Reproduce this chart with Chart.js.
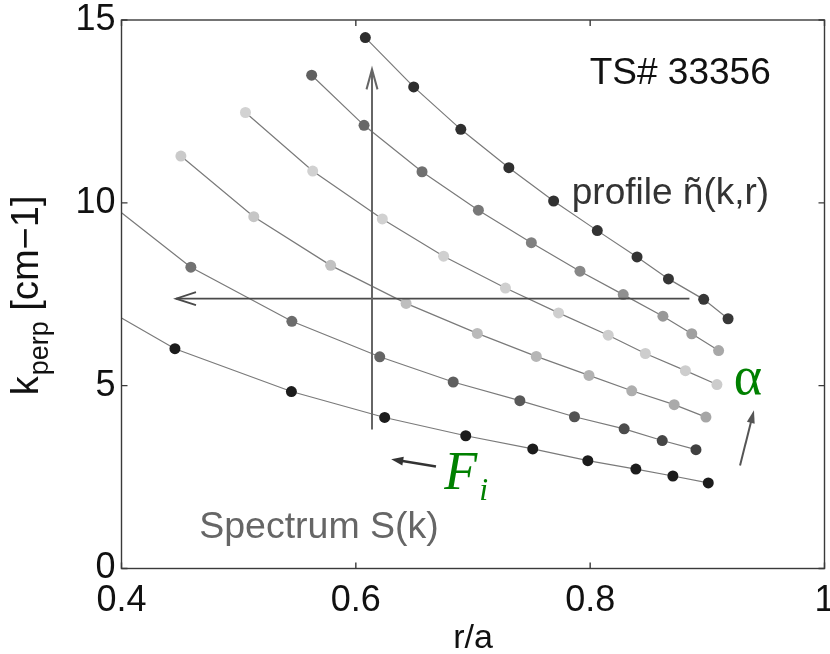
<!DOCTYPE html>
<html><head><meta charset="utf-8">
<script src="https://cdn.jsdelivr.net/npm/chart.js@4.4.0/dist/chart.umd.min.js"></script>
<style>html,body{margin:0;padding:0;background:#fff;}#wrap{width:830px;height:654px;}</style>
</head><body><div id="wrap"><canvas id="c" width="830" height="654"></canvas></div>
<script>
// ---- data (r/a, k_perp) ----
const xTicks = [0.4, 0.6, 0.8, 1];
const xTickLabels = ['0.4', '0.6', '0.8', '1'];
const yTicks = [0, 5, 10, 15];
const yTickLabels = ['0', '5', '10', '15'];

const r1 = [0.400, 0.4456, 0.545, 0.6246, 0.6938, 0.751, 0.798, 0.839, 0.8706, 0.9008];
const k1 = [6.85, 6.01, 4.84, 4.13, 3.63, 3.27, 2.95, 2.72, 2.53, 2.34];
const r2 = [0.400, 0.4592, 0.5454, 0.6204, 0.6831, 0.740, 0.7866, 0.829, 0.8615, 0.8903];
const k2 = [9.73, 8.24, 6.76, 5.79, 5.10, 4.59, 4.15, 3.82, 3.50, 3.25];
const r3 = [0.4507, 0.5129, 0.5785, 0.6429, 0.7037, 0.754, 0.799, 0.8355, 0.8717, 0.8988];
const k3 = [11.28, 9.62, 8.29, 7.25, 6.43, 5.80, 5.28, 4.86, 4.48, 4.14];
const r4 = [0.5058, 0.5632, 0.6226, 0.6749, 0.7277, 0.773, 0.8154, 0.8471, 0.8813, 0.9082];
const k4 = [12.47, 10.87, 9.56, 8.54, 7.67, 6.99, 6.38, 5.88, 5.41, 5.03];
const r5 = [0.5623, 0.607, 0.6565, 0.7046, 0.7498, 0.7913, 0.8282, 0.8621, 0.8867, 0.9096];
const k5 = [13.49, 12.12, 10.85, 9.80, 8.91, 8.13, 7.49, 6.90, 6.42, 5.96];
const r6 = [0.6081, 0.6494, 0.6896, 0.7306, 0.7688, 0.8061, 0.84, 0.8668, 0.8969, 0.9177];
const k6 = [14.52, 13.17, 12.01, 10.96, 10.05, 9.24, 8.52, 7.92, 7.36, 6.83];

// ---- styles ----
const FONT = '"Liberation Sans", Arial, Helvetica, sans-serif';
const SERIF = '"Liberation Serif", "Times New Roman", Times, serif';
const seriesStyle = [
  {r: r1, k: k1, from: 0x1c, to: 0x1c},
  {r: r2, k: k2, from: 0x78, to: 0x40},
  {r: r3, k: k3, from: 0xca, to: 0xa6},
  {r: r4, k: k4, from: 0xd2, to: 0xcc},
  {r: r5, k: k5, from: 0x60, to: 0xa8},
  {r: r6, k: k6, from: 0x2c, to: 0x38}
];
function grey(v){ v = Math.round(v); return 'rgb(' + v + ',' + v + ',' + v + ')'; }

const datasets = seriesStyle.map(s => ({
  data: s.r.map((x, i) => ({x: x, y: s.k[i]})),
  borderColor: '#7a7a7a',
  borderWidth: 1.2,
  tension: 0,
  fill: false,
  pointRadius: c => (c.raw && c.raw.x <= 0.4) ? 0 : 5.5,
  pointHoverRadius: c => (c.raw && c.raw.x <= 0.4) ? 0 : 5.5,
  pointBorderWidth: 0,
  pointBackgroundColor: c => {
    const n = s.r.length - 1; const t = n ? c.dataIndex / n : 0;
    return grey(s.from + (s.to - s.from) * t);
  }
}));

// ---- annotations (data coordinates) ----
const arrows = [
  {x1: 0.8847, y1: 7.38, x2: 0.4465, y2: 7.38, color: '#4a4a4a', lw: 1.8, head: 20, half: 6.5, filled: false},
  {x1: 0.6138, y1: 3.80, x2: 0.6138, y2: 13.65, color: '#666666', lw: 2, head: 20, half: 5.5, filled: false},
  {x1: 0.6684, y1: 2.79, x2: 0.6302, y2: 2.99, color: '#333333', lw: 2.5, head: 12, half: 4.5, filled: true},
  {x1: 0.9279, y1: 2.82, x2: 0.9398, y2: 4.33, color: '#555555', lw: 2, head: 13, half: 4, filled: true}
];
const labels = [
  {text: 'TS# 33356', x: 0.7996, y: 13.24, font: '37px ' + FONT, color: '#111111'},
  {text: 'profile ñ(k,r)', x: 0.7843, y: 9.98, font: '37px ' + FONT, color: '#333333'},
  {text: 'Spectrum S(k)', x: 0.4663, y: 0.84, font: '37.5px ' + FONT, color: '#666666'},
  {text: 'F', x: 0.6755, y: 2.18, font: 'italic 54px ' + SERIF, color: '#008000', sub: {text: 'i', dy: 11, font: 'italic 32px ' + SERIF}},
  {text: 'α', x: 0.9226, y: 4.78, font: '54px ' + SERIF, color: '#008000'}
];

function drawArrow(ctx, x1, y1, x2, y2, a){
  const ang = Math.atan2(y2 - y1, x2 - x1);
  const cos = Math.cos(ang), sin = Math.sin(ang);
  ctx.save();
  ctx.strokeStyle = a.color; ctx.fillStyle = a.color; ctx.lineWidth = a.lw; ctx.lineCap = 'butt';
  const endX = a.filled ? x2 - a.head * 0.7 * cos : x2;
  const endY = a.filled ? y2 - a.head * 0.7 * sin : y2;
  ctx.beginPath(); ctx.moveTo(x1, y1); ctx.lineTo(endX, endY); ctx.stroke();
  const bx = x2 - a.head * cos, by = y2 - a.head * sin;
  const px = -sin * a.half, py = cos * a.half;
  ctx.beginPath();
  if (a.filled) {
    ctx.moveTo(x2, y2); ctx.lineTo(bx + px, by + py); ctx.lineTo(bx - px, by - py); ctx.closePath(); ctx.fill();
  } else {
    ctx.moveTo(bx + px, by + py); ctx.lineTo(x2, y2); ctx.lineTo(bx - px, by - py); ctx.stroke();
  }
  ctx.restore();
}

const annotationPlugin = {
  id: 'annot',
  afterDatasetsDraw(chart){
    const ctx = chart.ctx, xs = chart.scales.x, ys = chart.scales.y;
    arrows.forEach(a => drawArrow(ctx, xs.getPixelForValue(a.x1), ys.getPixelForValue(a.y1),
      xs.getPixelForValue(a.x2), ys.getPixelForValue(a.y2), a));
    labels.forEach(l => {
      ctx.save();
      ctx.font = l.font; ctx.fillStyle = l.color; ctx.textAlign = 'left'; ctx.textBaseline = 'alphabetic';
      const px = xs.getPixelForValue(l.x), py = ys.getPixelForValue(l.y);
      ctx.fillText(l.text, px, py);
      if (l.sub) {
        const w = ctx.measureText(l.text).width;
        ctx.font = l.sub.font;
        ctx.fillText(l.sub.text, px + w + 2, py + l.sub.dy);
      }
      ctx.restore();
    });
  }
};

const framePlugin = {
  id: 'frame',
  afterDraw(chart){
    const ctx = chart.ctx, a = chart.chartArea, xs = chart.scales.x, ys = chart.scales.y;
    ctx.save();
    ctx.strokeStyle = '#3a3a3a'; ctx.lineWidth = 1.4;
    ctx.strokeRect(a.left, a.top, a.right - a.left, a.bottom - a.top);
    ctx.beginPath();
    const tl = 6;
    xTicks.forEach(v => { const p = xs.getPixelForValue(v);
      ctx.moveTo(p, a.bottom); ctx.lineTo(p, a.bottom - tl);
      ctx.moveTo(p, a.top); ctx.lineTo(p, a.top + tl); });
    yTicks.forEach(v => { const p = ys.getPixelForValue(v);
      ctx.moveTo(a.left, p); ctx.lineTo(a.left + tl, p);
      ctx.moveTo(a.right, p); ctx.lineTo(a.right - tl, p); });
    ctx.stroke();
    // y-axis title with subscript
    ctx.fillStyle = '#111111';
    ctx.translate(38, a.top + (a.bottom - a.top) / 2 + 101);
    ctx.rotate(-Math.PI / 2);
    ctx.textAlign = 'left'; ctx.textBaseline = 'alphabetic';
    ctx.font = '38px ' + FONT;
    ctx.fillText('k', 0, 0);
    let w = ctx.measureText('k').width;
    ctx.font = '27px ' + FONT;
    ctx.fillText('perp', w + 1, 10);
    w += ctx.measureText('perp').width + 1;
    ctx.font = '38px ' + FONT;
    ctx.fillText(' [cm−1]', w, 0);
    ctx.restore();
  }
};

new Chart(document.getElementById('c'), {
  type: 'line',
  data: {datasets: datasets},
  options: {
    responsive: false, animation: false, devicePixelRatio: 1,
    layout: {padding: {top: 20, right: 1, left: 0, bottom: 0}},
    plugins: {legend: {display: false}, tooltip: {enabled: false}},
    scales: {
      x: {
        type: 'linear', min: 0.4, max: 1,
        grid: {display: false, drawTicks: false}, border: {display: false},
        afterBuildTicks: s => { s.ticks = xTicks.map(v => ({value: v})); },
        ticks: {autoSkip: false, maxRotation: 0, minRotation: 0, padding: 11, color: '#111111',
          font: {family: FONT, size: 36}, callback: v => xTickLabels[xTicks.indexOf(v)]},
        title: {display: true, text: 'r/a', color: '#111111', font: {family: FONT, size: 34}, padding: {top: 0, bottom: -5}},
        afterFit: s => { s.height = 85.5; s.paddingLeft = 0; s.paddingRight = 0; }
      },
      y: {
        type: 'linear', min: 0, max: 15,
        grid: {display: false, drawTicks: false}, border: {display: false},
        afterBuildTicks: s => { s.ticks = yTicks.map(v => ({value: v})); },
        ticks: {autoSkip: false, padding: 6, color: '#111111',
          font: {family: FONT, size: 36}, callback: v => yTickLabels[yTicks.indexOf(v)]},
        afterFit: s => { s.width = 121.5; s.paddingTop = 0; s.paddingBottom = 0; }
      }
    }
  },
  plugins: [annotationPlugin, framePlugin]
});
</script></body></html>
